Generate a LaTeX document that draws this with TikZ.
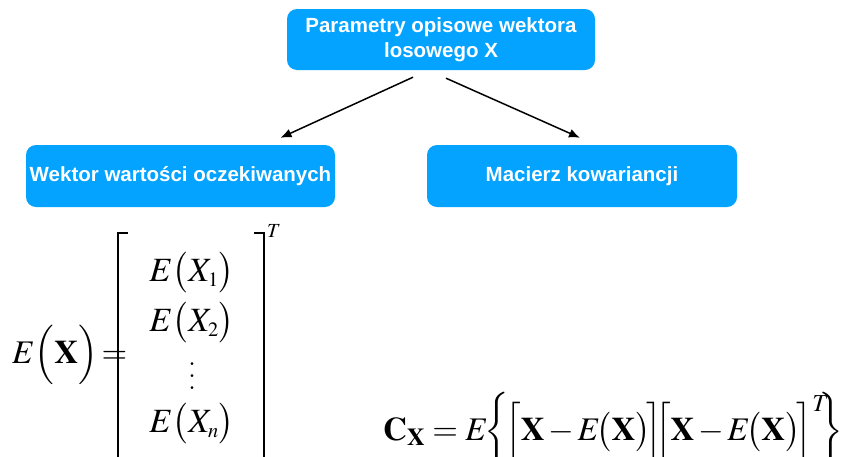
\documentclass[tikz,border=0pt]{standalone}
\usepackage{mathptmx}
\usepackage[no-math]{fontspec}
\usepackage{graphicx}
\newfontfamily\boxfont{Liberation Sans}
\usetikzlibrary{arrows.meta,calc}
\definecolor{boxblue}{RGB}{3,163,255}
\newcommand{\myvdots}{\vbox{\baselineskip12pt\lineskiplimit0pt\hbox{.}\hbox{.}\hbox{.}}}
\tikzset{
  box/.style={fill=boxblue, rounded corners=10pt, text=white,
    font=\boxfont\bfseries\fontsize{20.5}{25}\selectfont, align=center,
    inner sep=0pt},
  arr/.style={-{Latex[length=11pt,width=9pt]}, line width=1.5pt, black},
  mathtxt/.style={font=\fontsize{34}{40}\selectfont, inner sep=0pt},
  brk/.style={line width=1.4pt}
}
\begin{document}
\begin{tikzpicture}[x=1pt,y=-1pt]
\useasboundingbox (0,0) rectangle (846,456);
% boxes
\node[box, minimum width=308pt, minimum height=61pt] (top) at (441,39.5)
  {Parametry opisowe wektora\\losowego X};
\node[box, minimum width=309pt, minimum height=62pt] (left) at (180.5,176)
  {Wektor wartości oczekiwanych};
\node[box, minimum width=310pt, minimum height=62pt] (right) at (582,176)
  {Macierz kowariancji};
% arrows
\draw[arr] ([xshift=-28pt,yshift=-7pt]top.south) -- ([xshift=100pt,yshift=7pt]left.north);
\draw[arr] ([xshift=5pt,yshift=-8pt]top.south) -- ([xshift=-2pt,yshift=7pt]right.north);
% E(X) = [ ... ]^T
\node[mathtxt, font=\fontsize{33}{40}\selectfont, anchor=base west] (ex) at (12,363)
  {$E\Bigl(\mathbf{X}\Bigr)\!=$};
\node[mathtxt, anchor=base] (r1) at (192,281) {$E\bigl(X_{\scriptscriptstyle 1}\bigr)$};
\node[mathtxt, anchor=base] (r2) at (192,331) {$E\bigl(X_{\scriptscriptstyle 2}\bigr)$};
\node[mathtxt, anchor=base] (r3) at (192,389) {\myvdots};
\node[mathtxt, anchor=base] (r4) at (192,432) {$E\bigl(X_{\scriptscriptstyle n}\bigr)$};
\draw[brk] (128,233) -- (118,233) -- (118,458);
\draw[brk] (254,233) -- (264,233) -- (264,458);
\node[font=\fontsize{20}{24}\selectfont, inner sep=0pt, anchor=base west] (tt) at (267,237) {$T$};
% covariance
\node[mathtxt, anchor=base west] (cx) at (383,440)
  {\resizebox{460pt}{!}{\medmuskip=2mu\thickmuskip=4mu$\mathbf{C}_{\mathbf{X}} = E\!\biggl\{\!\Bigl[\mathbf{X}-E\!\bigl(\mathbf{X}\bigr)\!\Bigr]\!\!\Bigl[\mathbf{X}-E\!\bigl(\mathbf{X}\bigr)\!\Bigr]^{T}\!\!\!\biggr\}$}};
\end{tikzpicture}
\end{document}
